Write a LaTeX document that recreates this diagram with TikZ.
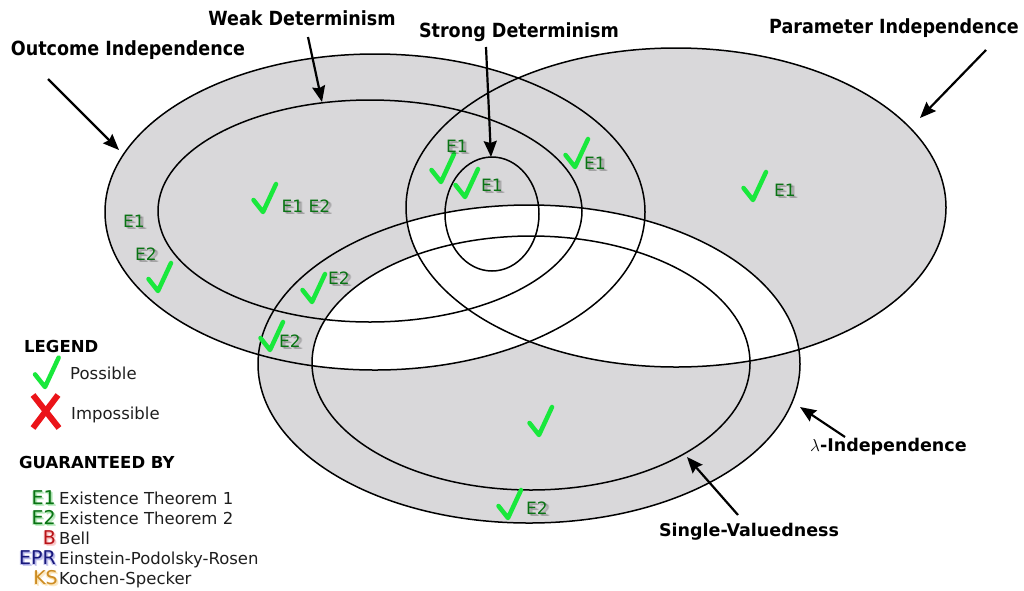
\documentclass[tikz,border=0pt]{standalone}
\usepackage{fontspec}
\setmainfont{DejaVu Sans}
\newfontfamily\condfont{DejaVu Sans}[FakeStretch=0.9]
\usetikzlibrary{arrows.meta,calc}
\definecolor{vgray}{RGB}{217,216,218}
\definecolor{chkgreen}{RGB}{25,232,60}
\definecolor{egreen}{RGB}{10,115,20}
\definecolor{eglow}{RGB}{90,200,100}
\definecolor{bred}{RGB}{185,20,25}
\definecolor{bglow}{RGB}{240,130,130}
\definecolor{eprblue}{RGB}{25,25,125}
\definecolor{eprglow}{RGB}{110,110,210}
\definecolor{ksgold}{RGB}{205,140,35}
\definecolor{ksglow}{RGB}{245,200,110}
\definecolor{xred}{RGB}{235,20,25}
\tikzset{
  pOI/.style={insert path={(375,212) ellipse [x radius=270pt, y radius=158pt]}},
  pWD/.style={insert path={(370,211) ellipse [x radius=212pt, y radius=111pt]}},
  pSD/.style={insert path={(492,214) ellipse [x radius=47pt, y radius=57pt]}},
  pPI/.style={insert path={(676,207.5) ellipse [x radius=270pt, y radius=159.5pt]}},
  pLI/.style={insert path={(529,364) ellipse [x radius=271pt, y radius=159pt]}},
  pSV/.style={insert path={(531,363) ellipse [x radius=219pt, y radius=127pt]}},
  outline/.style={draw=black,line width=1.5pt},
  toplab/.style={font=\condfont\bfseries\fontsize{19.5}{22}\selectfont, inner sep=0pt},
  botlab/.style={font=\bfseries\fontsize{17.5}{20}\selectfont, inner sep=0pt},
  pointer/.style={line width=2.2pt, -{Stealth[length=16pt,width=13pt,inset=2pt]}},
  chk/.pic={\draw[chkgreen,line width=4.5pt,line cap=round,line join=round] (-9.5,-12) -- (0,0) -- (13,-28);},
  elab/.style={text=egreen,font=\fontsize{17}{20}\selectfont,inner sep=0pt},
  elabsh/.style={text=black,opacity=0.13,font=\fontsize{17}{20}\selectfont,inner sep=0pt},
  legtext/.style={font=\fontsize{16.5}{19}\selectfont,inner sep=0pt,text={rgb,255:red,30;green,30;blue,30}},
  leghead/.style={font=\bfseries\fontsize{16.5}{19}\selectfont,inner sep=0pt},
  code/.style={font=\fontsize{19}{22}\selectfont,inner sep=0pt,anchor=base east},
  glow/.style={opacity=0.35},
}
\newcommand\elabel[3]{%
  \node[elabsh] (#1s) at ($(#2)+(1.5,1.5)$) {#3};
  \node[elabsh] (#1t) at ($(#2)+(2.5,2.5)$) {#3};
  \node[elabsh] (#1u) at ($(#2)+(3.5,2.5)$) {#3};
  \node[elab] (#1) at (#2) {#3};}
\newcommand\legcode[5]{%
  \node[code, text=#4, glow] (#1g) at ($(#2)+(1,1)$) {#3};
  \node[code, text=#4, glow] (#1h) at ($(#2)+(-1,1)$) {#3};
  \node[code, text=#4, glow] (#1i) at ($(#2)+(2,2)$) {#3};
  \node[code, text=#5] (#1) at (#2) {#3};}
\begin{document}
\begin{tikzpicture}[x=1pt,y=-1pt]
\useasboundingbox (0,0) rectangle (1024,590);
% fills
\fill[vgray, pOI];
\fill[vgray, pPI];
\fill[vgray, pLI];
\begin{scope}
  \clip[pPI];
  \fill[white, pLI];
\end{scope}
\begin{scope}
  \clip[pOI];
  \fill[white, pSV];
\end{scope}
% outlines
\draw[outline, pOI];
\draw[outline, pWD];
\draw[outline, pSD];
\draw[outline, pPI];
\draw[outline, pLI];
\draw[outline, pSV];
% labels
\node[toplab] (oi) at (128,50) {Outcome Independence};
\node[toplab] (wd) at (302,18) {Weak Determinism};
\node[toplab] (sd) at (519,32) {Strong Determinism};
\node[toplab] (pi) at (894,28) {Parameter Independence};
\node[botlab, anchor=west] (li) at (810,447) {$\lambda$-Independence};
\node[botlab] (sv) at (749,532) {Single-Valuedness};
% arrow ends
\coordinate (oiS) at (48,79);   \coordinate (oiT) at (119,150);
\coordinate (wdS) at (308,37);  \coordinate (wdT) at (322,102);
\coordinate (sdS) at (486,47);  \coordinate (sdT) at (491,157);
\coordinate (piS) at (986,50);  \coordinate (piT) at (920,118);
\coordinate (liS) at (845,437); \coordinate (liT) at (800,407);
\coordinate (svS) at (738,515); \coordinate (svT) at (687,457);
\draw[pointer] (oiS) -- (oiT);
\draw[pointer] (wdS) -- (wdT);
\draw[pointer] (sdS) -- (sdT);
\draw[pointer] (piS) -- (piT);
\draw[pointer] (liS) -- (liT);
\draw[pointer] (svS) -- (svT);
% checks
\pic at (158,291) {chk};
\pic at (263,212) {chk};
\pic at (312,302) {chk};
\pic at (270,350) {chk};
\pic at (441,182) {chk};
\pic at (465,197) {chk};
\pic at (575,167) {chk};
\pic at (753,200) {chk};
\pic at (539,435) {chk};
\pic at (508,518) {chk};
% E labels
\coordinate (pa) at (134,221); \elabel{ea}{pa}{E1}
\coordinate (pb) at (146,254); \elabel{eb}{pb}{E2}
\coordinate (pc) at (306,206); \elabel{ec}{pc}{E1 E2}
\coordinate (pd) at (339,278); \elabel{ed}{pd}{E2}
\coordinate (pe) at (290,341); \elabel{ee}{pe}{E2}
\coordinate (pf) at (457,146); \elabel{ef}{pf}{E1}
\coordinate (pg) at (492,185); \elabel{eg}{pg}{E1}
\coordinate (ph) at (595,163); \elabel{eh}{ph}{E1}
\coordinate (pj) at (785,190); \elabel{ej}{pj}{E1}
\coordinate (pk) at (537,508); \elabel{ek}{pk}{E2}
% legend
\node[leghead, anchor=base west] (lg) at (24,352) {LEGEND};
\pic[scale=1.05] at (45,387) {chk};
\node[legtext, anchor=base west] (lp) at (70,379) {Possible};
\draw[xred, line width=6pt] (33,395) -- (59,428);
\draw[xred, line width=6pt] (58,395) -- (33,428);
\node[legtext, anchor=base west] (lim) at (71,419) {Impossible};
\node[leghead, anchor=base west] (gb) at (19,468) {GUARANTEED BY};
% codes with glow
\coordinate (q1) at (56,504); \legcode{c1}{q1}{E1}{eglow}{egreen}
\coordinate (q2) at (56,524); \legcode{c2}{q2}{E2}{eglow}{egreen}
\coordinate (q3) at (56,544); \legcode{c3}{q3}{B}{bglow}{bred}
\coordinate (q4) at (56,564); \legcode{c4}{q4}{EPR}{eprglow}{eprblue}
\coordinate (q5) at (58,584); \legcode{c5}{q5}{KS}{ksglow}{ksgold}
\node[legtext, anchor=base west] (t1) at (59,504) {Existence Theorem 1};
\node[legtext, anchor=base west] (t2) at (59,524) {Existence Theorem 2};
\node[legtext, anchor=base west] (t3) at (59,544) {Bell};
\node[legtext, anchor=base west] (t4) at (59,564) {Einstein-Podolsky-Rosen};
\node[legtext, anchor=base west] (t5) at (59,584) {Kochen-Specker};
\end{tikzpicture}
\end{document}
